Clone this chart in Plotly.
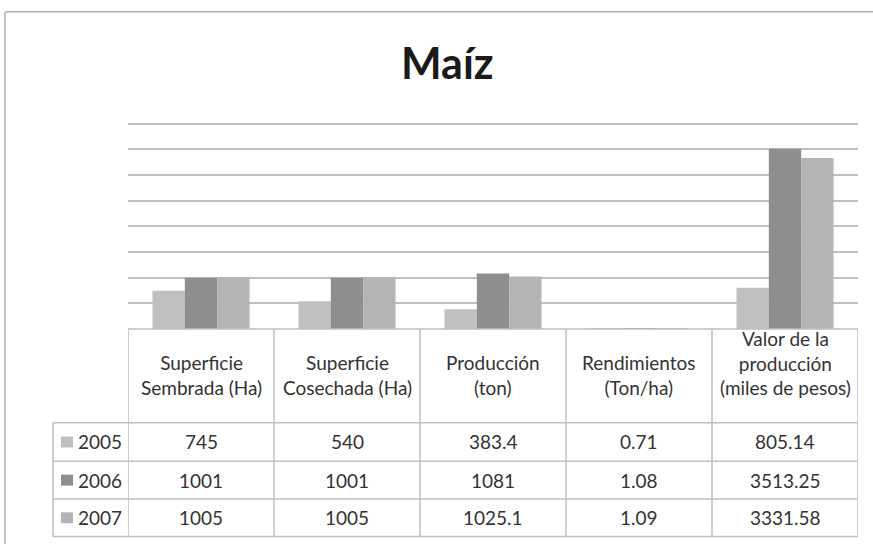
"""Maíz: bar chart with an Excel-style data table underneath."""

import plotly.graph_objects as go

TITLE = "Maíz"
CATEGORIES = [
    "Superficie<br>Sembrada (Ha)",
    "Superficie<br>Cosechada (Ha)",
    "Producción<br>(ton)",
    "Rendimientos<br>(Ton/ha)",
    "Valor de la<br>producción<br>(miles de pesos)",
]
YEARS = ["2005", "2006", "2007"]
VALUES_2005 = [745, 540, 383.4, 0.71, 805.14]
VALUES_2006 = [1001, 1001, 1081, 1.08, 3513.25]
VALUES_2007 = [1005, 1005, 1025.1, 1.09, 3331.58]
SERIES = [VALUES_2005, VALUES_2006, VALUES_2007]
COLORS = ["#c0c0c0", "#8e8e8e", "#b4b4b4"]
Y_MAX = 4000

W, H = 873, 544
PLOT_L, PLOT_R, PLOT_B = 128, 858, 329
GRID_TOP = 123.3          # pixel row of the Y_MAX gridline
PLOT_T = 119.5            # a little headroom so the top gridline is drawn
HEADER_BOTTOM = 423
ROW_EDGES = [423, 461.5, 499.5, 537]
LEGEND_LEFT = 53
LINE = "#bfbfbf"
TEXT = "#333333"
FONT = "Lato"
FONT_SIZE = 19


def px_x(px):
    return (px - PLOT_L) / (PLOT_R - PLOT_L)


def px_y(px):
    return (PLOT_B - px) / (PLOT_B - PLOT_T)


fig = go.Figure()
for year, values, color in zip(YEARS, SERIES, COLORS):
    fig.add_trace(
        go.Bar(
            x=list(range(len(CATEGORIES))),
            y=values,
            name=year,
            marker=dict(color=color, line=dict(width=0)),
        )
    )

shapes = []
line = dict(color=LINE, width=1.5)
n = len(CATEGORIES)

# table horizontal lines
shapes.append(dict(type="line", xref="x", yref="paper", x0=-0.5, x1=n - 0.5,
                   y0=0, y1=0, line=line))
for edge in ROW_EDGES:
    shapes.append(dict(type="line", xref="paper", yref="paper",
                       x0=px_x(LEGEND_LEFT), x1=1, y0=px_y(edge), y1=px_y(edge), line=line))
# table vertical lines
for i in range(n + 1):
    shapes.append(dict(type="line", xref="x", yref="paper", x0=i - 0.5, x1=i - 0.5,
                       y0=0, y1=px_y(ROW_EDGES[-1]), line=line))
shapes.append(dict(type="line", xref="paper", yref="paper",
                   x0=px_x(LEGEND_LEFT), x1=px_x(LEGEND_LEFT),
                   y0=px_y(ROW_EDGES[0]), y1=px_y(ROW_EDGES[-1]), line=line))
# chart border (cropped at right and bottom)
border = dict(color="#b0b0b0", width=1.5)
shapes.append(dict(type="line", xref="paper", yref="paper", x0=px_x(5), x1=px_x(5),
                   y0=px_y(11), y1=px_y(H + 5), line=border))
shapes.append(dict(type="line", xref="paper", yref="paper", x0=px_x(5), x1=px_x(W + 5),
                   y0=px_y(11), y1=px_y(11), line=border))

cell_font = dict(family=FONT, size=FONT_SIZE, color=TEXT)
annotations = [
    dict(text=f"<b>{TITLE}</b>", xref="paper", yref="paper", x=px_x(447), y=px_y(62),
         xanchor="center", yanchor="middle", showarrow=False,
         font=dict(family=FONT, size=43, color="#1a1a1a"))
]
for i, label in enumerate(CATEGORIES):
    annotations.append(dict(text=label, xref="x", yref="paper", x=i, y=px_y(HEADER_BOTTOM - 22),
                            xanchor="center", yanchor="bottom", showarrow=False,
                            font=cell_font))

for r, (year, values, color) in enumerate(zip(YEARS, SERIES, COLORS)):
    top, bottom = ROW_EDGES[r], ROW_EDGES[r + 1]
    mid = (top + bottom) / 2
    for i, v in enumerate(values):
        annotations.append(dict(text=f"{v:g}", xref="x", yref="paper", x=i, y=px_y(mid),
                                xanchor="center", yanchor="middle", showarrow=False,
                                font=cell_font))
    shapes.append(dict(type="rect", xref="paper", yref="paper",
                       x0=px_x(61), x1=px_x(73), y0=px_y(mid + 5.5), y1=px_y(mid - 5.5),
                       fillcolor=color, line=dict(width=0)))
    annotations.append(dict(text=year, xref="paper", yref="paper", x=px_x(76), y=px_y(mid),
                            xanchor="left", yanchor="middle", showarrow=False,
                            font=cell_font))

y_top = Y_MAX * (PLOT_B - PLOT_T) / (PLOT_B - GRID_TOP)

fig.update_layout(
    width=W,
    height=H,
    margin=dict(l=PLOT_L, r=W - PLOT_R, t=PLOT_T, b=H - PLOT_B),
    paper_bgcolor="white",
    plot_bgcolor="white",
    showlegend=False,
    barmode="group",
    bargap=0.335,
    bargroupgap=0,
    shapes=shapes,
    annotations=annotations,
    xaxis=dict(range=[-0.5, n - 0.5], showticklabels=False, showgrid=False,
               zeroline=False, showline=False, ticks=""),
    yaxis=dict(range=[0, y_top], tick0=0, dtick=500, showticklabels=False, showgrid=True,
               gridcolor=LINE, gridwidth=1.5, zeroline=False, showline=False, ticks=""),
)

fig.write_html(
    "out.html",
    config={"displayModeBar": False},
    post_script="document.body.style.margin = '0';",
)
